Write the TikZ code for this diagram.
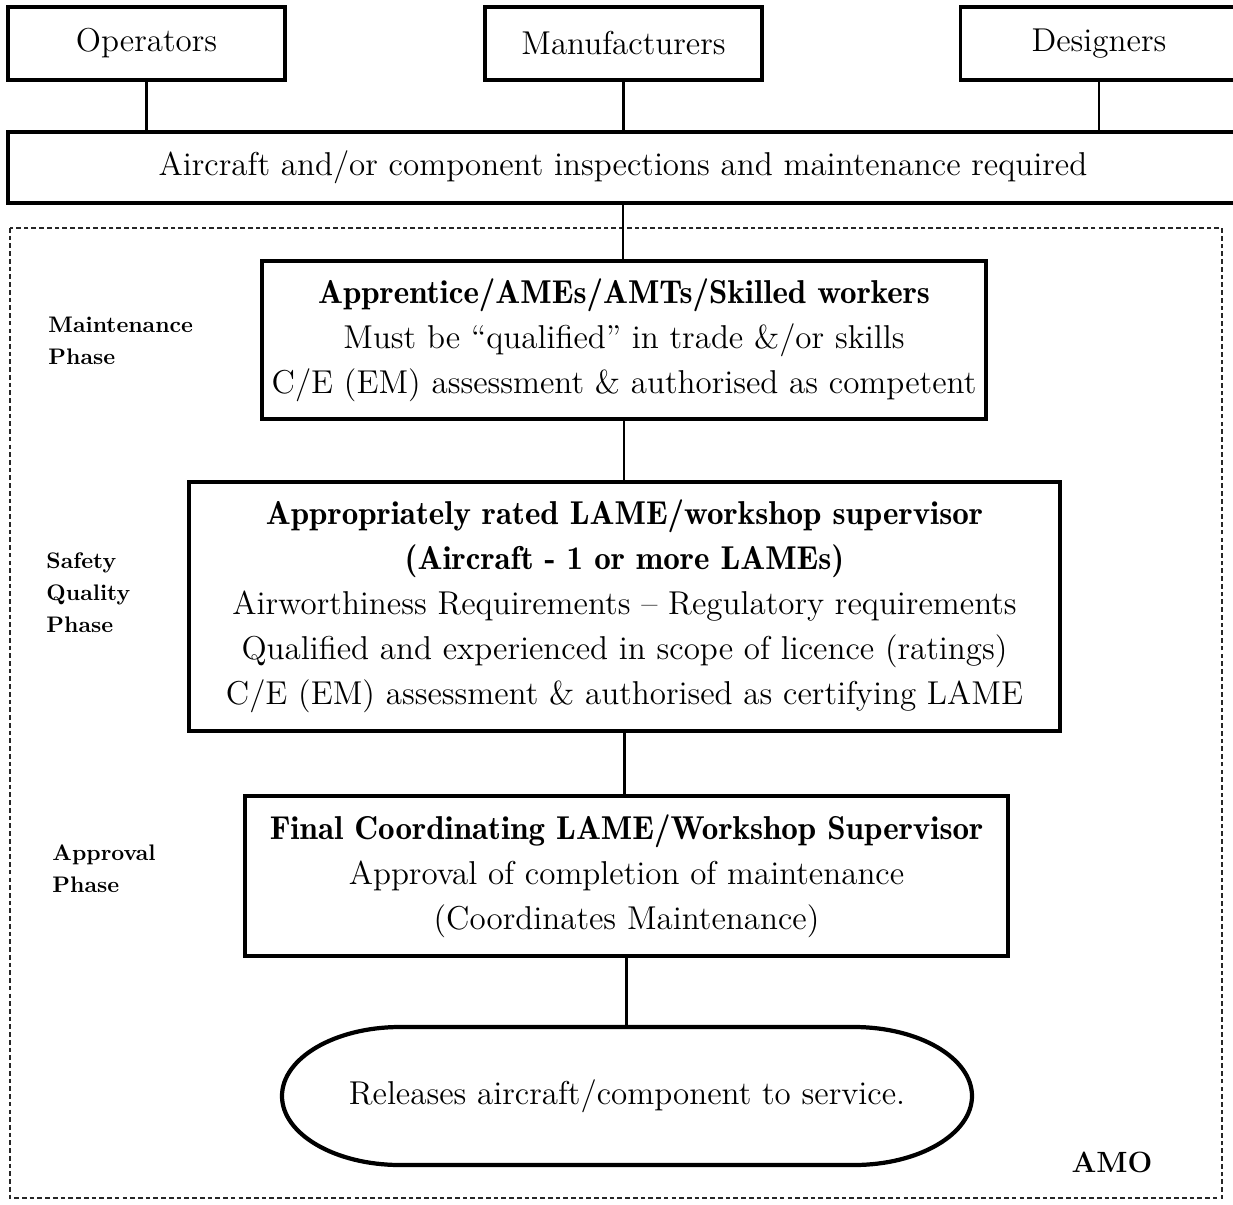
\documentclass[tikz,border=0pt]{standalone}
\usepackage{tikz}
\newcommand\bhead[1]{{\fontseries{b}\selectfont #1}}

\begin{document}
\begin{tikzpicture}[x=0.015cm,y=-0.015cm,
  box/.style={draw,line width=1.7pt,inner sep=0pt,align=center,font=\fontsize{14.1}{19.2}\selectfont},
  link/.style={line width=1.2pt},
  phase/.style={anchor=west,align=left,inner sep=0pt,font=\fontsize{9.6}{13.6}\selectfont\bfseries}]
  \useasboundingbox (0,0) rectangle (1233,1204);
  \draw[gray!30!black, line width=0.5pt, dash pattern=on 2pt off 1.3pt] (10,228) rectangle (1222,1198);
  \node[box,minimum width=4.155cm,minimum height=1.095cm] (ops) at (146.5,43.5) {Operators};
  \node[box,minimum width=4.155cm,minimum height=1.095cm] (man) at (623.5,43.5) {Manufacturers};
  \node[box,minimum width=4.155cm,minimum height=1.095cm] (des) at (1099,43.5) {Designers};
  \node[box,minimum width=18.45cm,minimum height=1.065cm] (req) at (623,167.5) {Aircraft and/or component inspections and maintenance required};
  \node[box,minimum width=10.86cm,minimum height=2.37cm] (app) at (624,340) {\bhead{Apprentice/AMEs/AMTs/Skilled workers}\\Must be ``qualified'' in trade \&/or skills\\C/E (EM) assessment \& authorised as competent};
  \node[box,minimum width=13.065cm,minimum height=3.735cm] (lame) at (624.5,606.5) {\bhead{Appropriately rated LAME/workshop supervisor}\\\bhead{(Aircraft - 1 or more LAMEs)}\\Airworthiness Requirements -- Regulatory requirements\\Qualified and experienced in scope of licence (ratings)\\C/E (EM) assessment \& authorised as certifying LAME};
  \node[box,minimum width=11.445cm,minimum height=2.4cm] (final) at (626.5,876) {\bhead{Final Coordinating LAME/Workshop Supervisor}\\Approval of completion of maintenance\\(Coordinates Maintenance)};
  \node[box,draw=none,minimum width=10.35cm,minimum height=2.07cm] (rel) at (627,1096) {Releases aircraft/component to service.};
  \draw[line width=1.8pt] (400,1027) -- (854,1027) .. controls (919,1027) and (972,1058) .. (972,1096)
    .. controls (972,1134) and (919,1165) .. (854,1165) -- (400,1165)
    .. controls (335,1165) and (282,1134) .. (282,1096) .. controls (282,1058) and (335,1027) .. (400,1027) -- cycle;
  \node[phase] (mph) at (48,341) {Maintenance\\Phase};
  \node[phase] (sph) at (46,593) {Safety\\Quality\\Phase};
  \node[phase] (aph) at (52,869) {Approval\\Phase};
  \node[font=\fontsize{12.5}{15}\selectfont\bfseries] (amo) at (1112,1162) {AMO};
  \draw[link] (ops.south) -- (ops.south |- req.north);
  \draw[link] (man.south) -- (man.south |- req.north);
  \draw[link] (des.south) -- (des.south |- req.north);
  \draw[link] (req.south) -- (req.south |- app.north);
  \draw[link] (app.south) -- (app.south |- lame.north);
  \draw[link] (lame.south) -- (lame.south |- final.north);
  \draw[link] (final.south) -- (final.south |- rel.north);
\end{tikzpicture}
\end{document}
